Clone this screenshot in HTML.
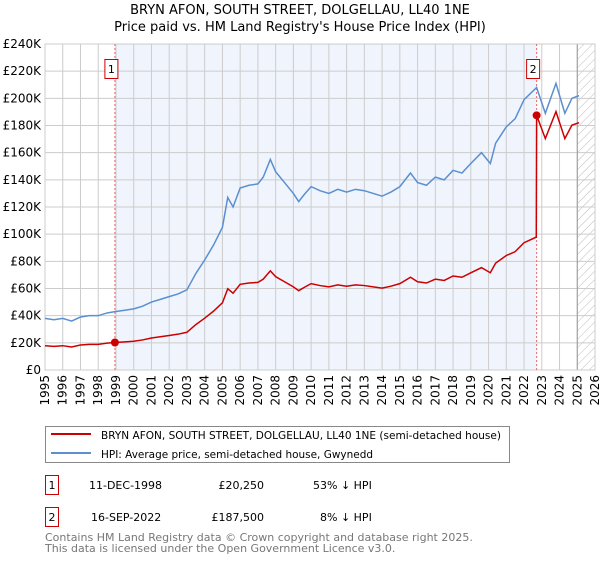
<!DOCTYPE html>
<html><head><meta charset="utf-8"><style>
body{margin:0;background:#fff;font-family:"Liberation Sans","DejaVu Sans",sans-serif;}
svg text{font-family:"DejaVu Sans","Liberation Sans",sans-serif;}
</style></head><body>
<svg id="chart" width="600" height="560" viewBox="0 0 600 560" xmlns="http://www.w3.org/2000/svg">
<defs><pattern id="hatch" width="6" height="6" patternUnits="userSpaceOnUse" patternTransform="rotate(45)"><line x1="0" y1="0" x2="0" y2="6" stroke="#bbb" stroke-width="1"/></pattern></defs>
<text x="300" y="14" text-anchor="middle" font-size="13">BRYN AFON, SOUTH STREET, DOLGELLAU, LL40 1NE</text>
<text x="300" y="31" text-anchor="middle" font-size="13">Price paid vs. HM Land Registry's House Price Index (HPI)</text>
<g id="plot"></g>
<g>
<rect x="45.5" y="426.5" width="464" height="36" fill="#fff" stroke="#888"/>
<line x1="51" y1="434" x2="91" y2="434" stroke="#cc0000" stroke-width="2"/>
<text x="101" y="439" font-size="11" textLength="400" lengthAdjust="spacingAndGlyphs">BRYN AFON, SOUTH STREET, DOLGELLAU, LL40 1NE (semi-detached house)</text>
<line x1="51" y1="453" x2="91" y2="453" stroke="#5b8fd0" stroke-width="2"/>
<text x="101" y="458" font-size="11" textLength="272" lengthAdjust="spacingAndGlyphs">HPI: Average price, semi-detached house, Gwynedd</text>
</g>
<g font-size="11">
<rect x="45.5" y="475.5" width="13" height="19" fill="#fff" stroke="#cc0000"/>
<text x="52" y="489" text-anchor="middle">1</text>
<text x="89" y="489">11-DEC-1998</text>
<text x="264" y="489" text-anchor="end">£20,250</text>
<text x="313" y="489">53% ↓ HPI</text>
<rect x="45.5" y="507.5" width="13" height="19" fill="#fff" stroke="#cc0000"/>
<text x="52" y="521" text-anchor="middle">2</text>
<text x="91" y="521">16-SEP-2022</text>
<text x="264" y="521" text-anchor="end">£187,500</text>
<text x="320" y="521">8% ↓ HPI</text>
</g>
<text x="45" y="541" font-size="11" fill="#777">Contains HM Land Registry data © Crown copyright and database right 2025.</text>
<text x="45" y="552" font-size="11" fill="#777">This data is licensed under the Open Government Licence v3.0.</text>
</svg>
<script>
const hpiYears=[1995,1995.5,1996,1996.5,1997,1997.5,1998,1998.5,1998.94,1999.5,2000,2000.5,2001,2001.5,2002,2002.5,2003,2003.5,2004,2004.5,2005,2005.3,2005.6,2006,2006.5,2007,2007.3,2007.7,2008,2008.5,2009,2009.3,2009.6,2010,2010.5,2011,2011.5,2012,2012.5,2013,2013.5,2014,2014.5,2015,2015.6,2016,2016.5,2017,2017.5,2018,2018.5,2019,2019.6,2020.1,2020.4,2021,2021.5,2022,2022.71,2023.2,2023.8,2024.3,2024.7,2025.1];
const hpiValues=[38,37,38,36,39,40,40,42,43,44,45,47,50,52,54,56,59,71,81,92,105,127,120,134,136,137,142,155,146,138,130,124,129,135,132,130,133,131,133,132,130,128,131,135,145,138,136,142,140,147,145,152,160,152,167,179,185,199,208,189,211,189,200,202];
const saleYears=[1998.94,2022.71];
const salePrices=[20250,187500];
const yTicks=[0,20000,40000,60000,80000,100000,120000,140000,160000,180000,200000,220000,240000];
const yTickLabels=["£0","£20K","£40K","£60K","£80K","£100K","£120K","£140K","£160K","£180K","£200K","£220K","£240K"];
const xTicks=[1995,1996,1997,1998,1999,2000,2001,2002,2003,2004,2005,2006,2007,2008,2009,2010,2011,2012,2013,2014,2015,2016,2017,2018,2019,2020,2021,2022,2023,2024,2025,2026];
const X0=45,X1=595,Y0=370,Y1=44;
const xs=y=>X0+(y-1995)/(2026-1995)*(X1-X0);
const ys=v=>Y0-v/240000*(Y0-Y1);
const NS="http://www.w3.org/2000/svg";
const g=document.getElementById('plot');
function mk(t,a){const e=document.createElementNS(NS,t);for(const k in a)e.setAttribute(k,a[k]);g.appendChild(e);return e;}
const bg=mk('rect',{x:xs(saleYears[0]),y:Y1,width:xs(saleYears[1])-xs(saleYears[0]),height:Y0-Y1,fill:'#f0f4fc'});


const ht=mk('rect',{x:xs(2025),y:Y1,width:X1-xs(2025),height:Y0-Y1,fill:'url(#hatch)'});


yTicks.forEach((v,i)=>{
 const l=mk('line',{x1:X0,x2:X1,y1:ys(v),y2:ys(v),stroke:'#ccc'});
 
 
 const t=mk('text',{x:X0-4,y:ys(v)+4,'text-anchor':'end','font-size':12});
 t.textContent=yTickLabels[i];
 
 
});
xTicks.forEach(yr=>{
 const l=mk('line',{x1:xs(yr),x2:xs(yr),y1:Y1,y2:Y0,stroke:'#ccc'});
 
 
 const t=mk('text',{x:0,y:0,'text-anchor':'end','font-size':12,transform:`translate(${xs(yr)+4},375) rotate(-90)`});
 t.textContent=yr;
 
 
});
const vl=mk('line',{x1:xs(2025),x2:xs(2025),y1:Y1,y2:Y0,stroke:'#999'});


const ax=mk('rect',{x:X0,y:Y1,width:X1-X0,height:Y0-Y1,fill:'none',stroke:'#ccc'});


saleYears.forEach((yr,i)=>{
 const l=mk('line',{x1:xs(yr),x2:xs(yr),y1:Y1,y2:Y0,stroke:'#e66','stroke-dasharray':'2,2'});
 
 
});
function hpiAt(yr){for(let i=0;i<hpiYears.length-1;i++){if(yr<=hpiYears[i+1]){const f=(yr-hpiYears[i])/(hpiYears[i+1]-hpiYears[i]);return hpiValues[i]+f*(hpiValues[i+1]-hpiValues[i]);}}return hpiValues[hpiValues.length-1];}
const hp=mk('polyline',{points:hpiYears.map((y,i)=>xs(y)+','+ys(hpiValues[i]*1000)).join(' '),fill:'none',stroke:'#5b8fd0','stroke-width':1.5});


const pts=[];
const r0=salePrices[0]/(hpiAt(saleYears[0])*1000), r1=salePrices[1]/(hpiAt(saleYears[1])*1000);
hpiYears.forEach((y,i)=>{ if(y<saleYears[1]) pts.push(xs(y)+','+ys(hpiValues[i]*1000*r0)); });
pts.push(xs(saleYears[1]-0.02)+','+ys(hpiAt(saleYears[1]-0.02)*1000*r0));
hpiYears.forEach((y,i)=>{ if(y>=saleYears[1]) pts.push(xs(y)+','+ys(hpiValues[i]*1000*r1)); });
const pl=mk('polyline',{points:pts.join(' '),fill:'none',stroke:'#cc0000','stroke-width':1.5});


saleYears.forEach((yr,i)=>{
 const c=mk('circle',{cx:xs(yr),cy:ys(salePrices[i]),r:4,fill:'#cc0000'});
 
 
 const bx=xs(yr)-3.5;
 const r=mk('rect',{x:bx-6.5,y:59.5,width:13,height:19,fill:'#fff',stroke:'#cc0000'});
 
 
 const t=mk('text',{x:bx,y:73,'text-anchor':'middle','font-size':11});
 t.textContent=String(i+1);
 
 
});
</script>
</body></html>
